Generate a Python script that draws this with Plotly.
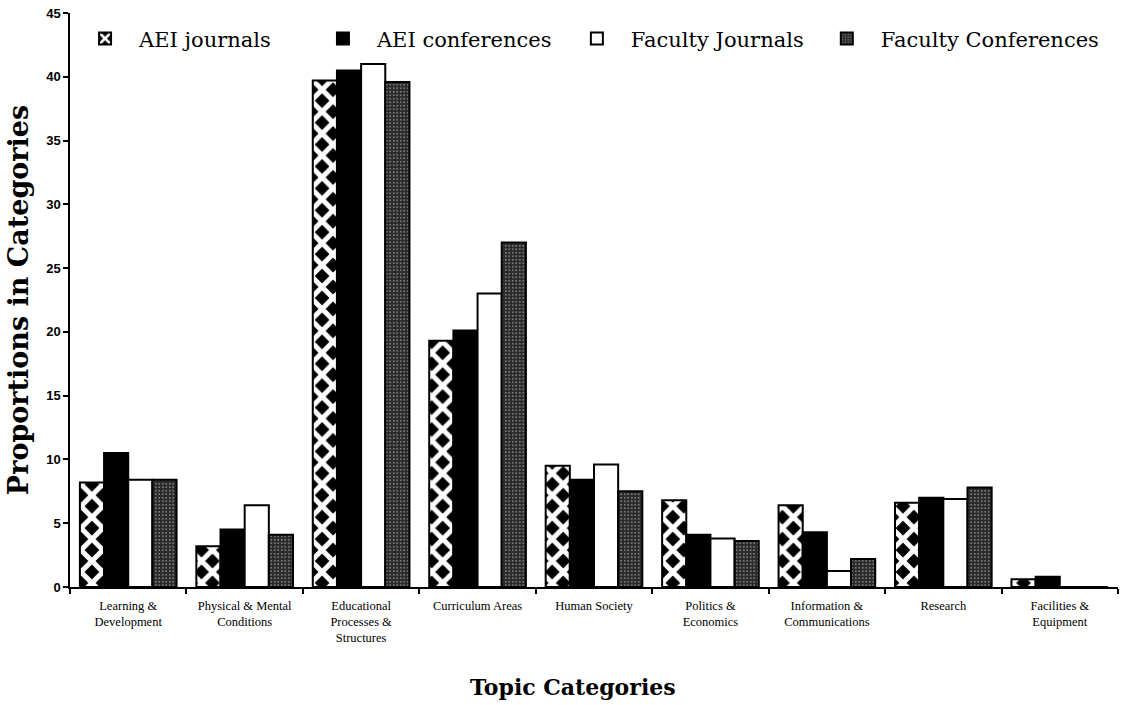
import plotly.graph_objects as go

categories = [
    "Learning &<br>Development",
    "Physical & Mental<br>Conditions",
    "Educational<br>Processes &<br>Structures",
    "Curriculum Areas",
    "Human Society",
    "Politics &<br>Economics",
    "Information &<br>Communications",
    "Research",
    "Facilities &<br>Equipment",
]

aei_journals = [8.2, 3.2, 39.7, 19.3, 9.5, 6.8, 6.4, 6.6, 0.6]
aei_conferences = [10.5, 4.5, 40.5, 20.1, 8.4, 4.1, 4.3, 7.0, 0.8]
faculty_journals = [8.4, 6.4, 41.0, 23.0, 9.6, 3.8, 1.25, 6.9, 0.0]
faculty_conferences = [8.4, 4.1, 39.6, 27.0, 7.5, 3.6, 2.2, 7.8, 0.0]

series_names = ["AEI journals", "AEI conferences", "Faculty Journals", "Faculty Conferences"]
x_title = "Topic Categories"
y_title = "Proportions in Categories"

serif = "DejaVu Serif"
label_serif = "Liberation Serif"

fig = go.Figure()

line = dict(color="black", width=2)

fig.add_trace(go.Bar(
    name=series_names[0], x=categories, y=aei_journals, legend="legend",
    marker=dict(color="black", line=line,
                pattern=dict(shape="x", fgcolor="white", bgcolor="black", fgopacity=1,
                             size=15.5, solidity=0.55)),
))
fig.add_trace(go.Bar(
    name=series_names[1], x=categories, y=aei_conferences, legend="legend2",
    marker=dict(color="black", line=line),
))
fig.add_trace(go.Bar(
    name=series_names[2], x=categories, y=faculty_journals, legend="legend3",
    marker=dict(color="white", line=line),
))
fig.add_trace(go.Bar(
    name=series_names[3], x=categories, y=faculty_conferences, legend="legend4",
    marker=dict(color="#2a2a2a", line=line,
                pattern=dict(shape=".", fgcolor="#8a8a8a", bgcolor="#2a2a2a", fgopacity=1,
                             size=3.5, solidity=0.22)),
))

legend_common = dict(
    orientation="h", y=0.955, xanchor="left", yanchor="middle",
    font=dict(family=serif, size=21, color="black"),
    itemwidth=58,
    bgcolor="rgba(0,0,0,0)",
)

fig.update_layout(
    width=1123, height=705,
    margin=dict(l=70, r=5, t=13, b=118),
    paper_bgcolor="white", plot_bgcolor="white",
    barmode="group", bargap=0.17, bargroupgap=0.0,
    showlegend=True,
    legend=dict(x=0.0010, **legend_common),
    legend2=dict(x=0.2280, **legend_common),
    legend3=dict(x=0.4703, **legend_common),
    legend4=dict(x=0.7088, **legend_common),
    font=dict(family=serif, color="black"),
    annotations=[
        dict(text="<b>" + x_title + "</b>", xref="paper", yref="paper",
             x=0.4804, y=-0.1742, xanchor="center", yanchor="middle", showarrow=False,
             font=dict(family=serif, size=22, color="black")),
    ],
)

fig.update_xaxes(
    showline=True, linecolor="black", linewidth=1.5,
    ticks="outside", tickson="boundaries", ticklen=5, tickcolor="black", tickwidth=1.5,
    tickfont=dict(family=label_serif, size=12.5, color="black"),
    ticklabelstandoff=6,
    showgrid=False,
    tickangle=0,
)

fig.update_yaxes(
    range=[0, 45], dtick=5,
    showline=True, linecolor="black", linewidth=1.5,
    ticks="outside", ticklen=5, tickcolor="black", tickwidth=1.5,
    tickfont=dict(family="Liberation Sans", size=13, color="black", weight="bold"),
    title=dict(text="<b>" + y_title + "</b>", font=dict(family=serif, size=27, color="black"), standoff=10),
    showgrid=False, zeroline=False,
)

fig.write_html("out.html", config={"displayModeBar": False},
               post_script="document.body.style.margin='0';")
